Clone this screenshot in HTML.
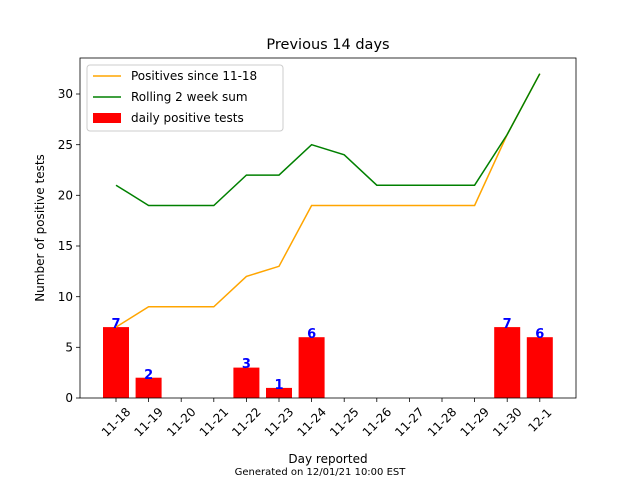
<!DOCTYPE html>
<html><head><meta charset="utf-8"><style>body{margin:0;background:#fff}svg{display:block}</style></head>
<body>
<svg width="640" height="480" xmlns="http://www.w3.org/2000/svg" font-family="DejaVu Sans, Liberation Sans, sans-serif">
<rect width="640" height="480" fill="#fff"/>
<g fill="red">
<rect x="103" y="327.1" width="26" height="70.9"/>
<rect x="135.6" y="377.7" width="26" height="20.3"/>
<rect x="233.4" y="367.6" width="26" height="30.4"/>
<rect x="266" y="387.9" width="26" height="10.1"/>
<rect x="298.6" y="337.2" width="26" height="60.8"/>
<rect x="494.2" y="327.1" width="26" height="70.9"/>
<rect x="526.8" y="337.2" width="26" height="60.8"/>
</g>
<g fill="blue" font-size="13" font-weight="bold" text-anchor="middle">
<text x="116" y="328">7</text><text x="148.6" y="379">2</text><text x="246.4" y="368">3</text>
<text x="279" y="389">1</text><text x="311.6" y="338">6</text><text x="507.2" y="328">7</text><text x="539.8" y="338">6</text>
</g>
<polyline fill="none" stroke="orange" stroke-width="1.5" points="116,327.1 148.6,306.8 181.2,306.8 213.8,306.8 246.4,276.4 279,266.3 311.6,205.5 344.2,205.5 376.8,205.5 409.4,205.5 442,205.5 474.6,205.5 507.2,134.5 539.8,73.7"/>
<polyline fill="none" stroke="green" stroke-width="1.5" points="116,185.2 148.6,205.5 181.2,205.5 213.8,205.5 246.4,175.1 279,175.1 311.6,144.7 344.2,154.8 376.8,185.2 409.4,185.2 442,185.2 474.6,185.2 507.2,134.5 539.8,73.7"/>
<rect x="80" y="58" width="496" height="340" fill="none" stroke="#000" stroke-width="0.8"/>
<g stroke="#000" stroke-width="0.8">
<line x1="76" y1="398" x2="80" y2="398"/><line x1="76" y1="347.3" x2="80" y2="347.3"/><line x1="76" y1="296.7" x2="80" y2="296.7"/>
<line x1="76" y1="246" x2="80" y2="246"/><line x1="76" y1="195.3" x2="80" y2="195.3"/><line x1="76" y1="144.7" x2="80" y2="144.7"/><line x1="76" y1="94" x2="80" y2="94"/>
</g>
<g font-size="12" text-anchor="end">
<text x="73" y="402">0</text><text x="73" y="351.5">5</text><text x="73" y="301">10</text><text x="73" y="250">15</text>
<text x="73" y="199.5">20</text><text x="73" y="149">25</text><text x="73" y="98">30</text>
</g>
<g font-size="12" text-anchor="middle">
<g transform="translate(116,398)"><line y2="4" stroke="#000" stroke-width="0.8"/><text dy="0.35em" transform="translate(0,24) rotate(-45)">11-18</text></g>
<g transform="translate(148.6,398)"><line y2="4" stroke="#000" stroke-width="0.8"/><text dy="0.35em" transform="translate(0,24) rotate(-45)">11-19</text></g>
<g transform="translate(181.2,398)"><line y2="4" stroke="#000" stroke-width="0.8"/><text dy="0.35em" transform="translate(0,24) rotate(-45)">11-20</text></g>
<g transform="translate(213.8,398)"><line y2="4" stroke="#000" stroke-width="0.8"/><text dy="0.35em" transform="translate(0,24) rotate(-45)">11-21</text></g>
<g transform="translate(246.4,398)"><line y2="4" stroke="#000" stroke-width="0.8"/><text dy="0.35em" transform="translate(0,24) rotate(-45)">11-22</text></g>
<g transform="translate(279,398)"><line y2="4" stroke="#000" stroke-width="0.8"/><text dy="0.35em" transform="translate(0,24) rotate(-45)">11-23</text></g>
<g transform="translate(311.6,398)"><line y2="4" stroke="#000" stroke-width="0.8"/><text dy="0.35em" transform="translate(0,24) rotate(-45)">11-24</text></g>
<g transform="translate(344.2,398)"><line y2="4" stroke="#000" stroke-width="0.8"/><text dy="0.35em" transform="translate(0,24) rotate(-45)">11-25</text></g>
<g transform="translate(376.8,398)"><line y2="4" stroke="#000" stroke-width="0.8"/><text dy="0.35em" transform="translate(0,24) rotate(-45)">11-26</text></g>
<g transform="translate(409.4,398)"><line y2="4" stroke="#000" stroke-width="0.8"/><text dy="0.35em" transform="translate(0,24) rotate(-45)">11-27</text></g>
<g transform="translate(442,398)"><line y2="4" stroke="#000" stroke-width="0.8"/><text dy="0.35em" transform="translate(0,24) rotate(-45)">11-28</text></g>
<g transform="translate(474.6,398)"><line y2="4" stroke="#000" stroke-width="0.8"/><text dy="0.35em" transform="translate(0,24) rotate(-45)">11-29</text></g>
<g transform="translate(507.2,398)"><line y2="4" stroke="#000" stroke-width="0.8"/><text dy="0.35em" transform="translate(0,24) rotate(-45)">11-30</text></g>
<g transform="translate(539.8,398)"><line y2="4" stroke="#000" stroke-width="0.8"/><text dy="0.35em" transform="translate(0,22) rotate(-45)">12-1</text></g>
</g>
<text x="328" y="49" font-size="14.5" text-anchor="middle">Previous 14 days</text>
<text x="328" y="463" font-size="12" text-anchor="middle">Day reported</text>
<text x="320" y="475" font-size="10" text-anchor="middle">Generated on 12/01/21 10:00 EST</text>
<text transform="translate(44,228) rotate(-90)" font-size="12" text-anchor="middle">Number of positive tests</text>
<rect x="87" y="65" width="196" height="66" rx="3" fill="#fff" fill-opacity="0.8" stroke="#ccc"/>
<line x1="93" y1="76" x2="121" y2="76" stroke="orange" stroke-width="1.5"/>
<line x1="93" y1="97" x2="121" y2="97" stroke="green" stroke-width="1.5"/>
<rect x="93" y="113" width="28" height="10" fill="red"/>
<g font-size="12"><text x="131" y="80">Positives since 11-18</text><text x="131" y="101">Rolling 2 week sum</text><text x="131" y="122">daily positive tests</text></g>
</svg>
</body></html>
